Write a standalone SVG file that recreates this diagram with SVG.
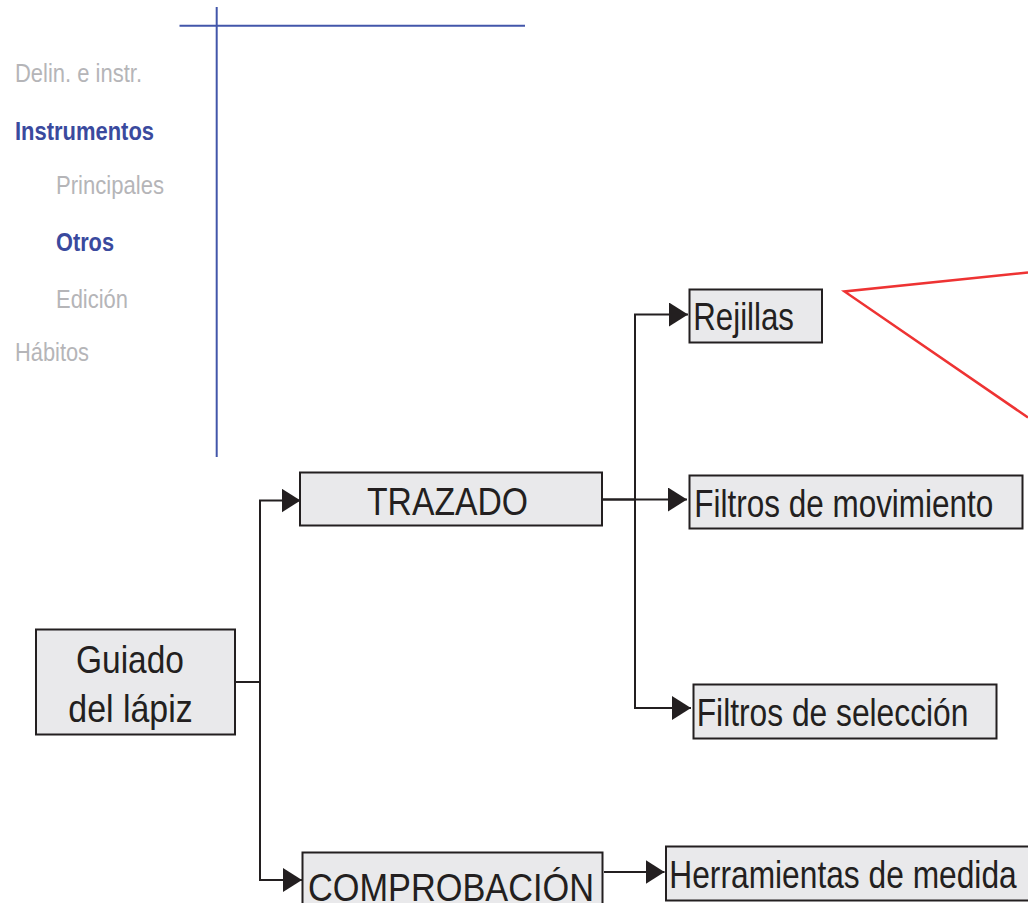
<svg xmlns="http://www.w3.org/2000/svg" width="1028" height="903" viewBox="0 0 1028 903">
<style>
.box{fill:#e9e9eb;stroke:#231f20;stroke-width:2}
.t{font-family:"Liberation Sans",Arial,sans-serif;fill:#231f20;font-size:39.5px}
.m{font-family:"Liberation Sans",Arial,sans-serif;font-size:26.5px;fill:#b5b5b8}
.mb{font-family:"Liberation Sans",Arial,sans-serif;font-size:26.5px;font-weight:bold;fill:#3a4a9e}
.c{fill:none;stroke:#231f20;stroke-width:2}
.blue{stroke:#4256aa;stroke-width:2;fill:none}
</style>
<defs>
<marker id="arr" markerUnits="userSpaceOnUse" markerWidth="20" markerHeight="24" refX="19" refY="12" orient="auto">
<path d="M0,0 L19,12 L0,24 z" fill="#231f20"/>
</marker>
</defs>
<g id="menu">
<line class="blue" x1="216.7" y1="7" x2="216.7" y2="457"/>
<line class="blue" x1="179.5" y1="25.7" x2="525" y2="25.7"/>
<text class="m" x="15" y="81.7" textLength="127" lengthAdjust="spacingAndGlyphs">Delin. e instr.</text>
<text class="mb" x="15" y="140" textLength="139" lengthAdjust="spacingAndGlyphs">Instrumentos</text>
<text class="m" x="56" y="194" textLength="108" lengthAdjust="spacingAndGlyphs">Principales</text>
<text class="mb" x="56" y="250.7" textLength="58" lengthAdjust="spacingAndGlyphs">Otros</text>
<text class="m" x="56" y="308" textLength="72" lengthAdjust="spacingAndGlyphs">Edición</text>
<text class="m" x="15" y="360.7" textLength="74" lengthAdjust="spacingAndGlyphs">Hábitos</text>
</g>
<g id="connectors">
<path class="c" d="M235,682 H260"/>
<path class="c" d="M260,682 V500.5 H300.5" marker-end="url(#arr)"/>
<path class="c" d="M260,682 V880 H302" marker-end="url(#arr)"/>
<path class="c" d="M602,499.5 H635 V314.5 H688" marker-end="url(#arr)"/>
<path class="c" d="M602,499.5 H687" marker-end="url(#arr)"/>
<path class="c" d="M635,499.5 V708 H691" marker-end="url(#arr)"/>
<path class="c" d="M604,872 H664.5" marker-end="url(#arr)"/>
</g>
<g id="callout">
<polyline points="1028,272.5 844.5,291.5 1028,417.5" fill="none" stroke="#ee3333" stroke-width="2.5"/>
</g>
<g id="guiado">
<rect class="box" x="36" y="629.5" width="199" height="105"/>
<text class="t" x="76" y="672.7" textLength="108" lengthAdjust="spacingAndGlyphs">Guiado</text>
<text class="t" x="68.3" y="721.7" textLength="124.4" lengthAdjust="spacingAndGlyphs">del lápiz</text>
</g>
<g id="trazado">
<rect class="box" x="300" y="472.5" width="302" height="53"/>
<text class="t" x="367" y="515" textLength="161" lengthAdjust="spacingAndGlyphs">TRAZADO</text>
</g>
<g id="comprobacion">
<rect class="box" x="302.5" y="852.5" width="300" height="60"/>
<text class="t" x="308" y="901" textLength="286" lengthAdjust="spacingAndGlyphs">COMPROBACIÓN</text>
</g>
<g id="rejillas">
<rect class="box" x="689.5" y="289.5" width="132.5" height="53"/>
<text class="t" x="693.3" y="330" textLength="100.7" lengthAdjust="spacingAndGlyphs">Rejillas</text>
</g>
<g id="filtros-movimiento">
<rect class="box" x="689.5" y="475.5" width="333" height="53"/>
<text class="t" x="694.3" y="516.7" textLength="299" lengthAdjust="spacingAndGlyphs">Filtros de movimiento</text>
</g>
<g id="filtros-seleccion">
<rect class="box" x="693.5" y="684.5" width="303" height="54"/>
<text class="t" x="696.7" y="726" textLength="271.7" lengthAdjust="spacingAndGlyphs">Filtros de selección</text>
</g>
<g id="herramientas">
<rect class="box" x="666" y="846.5" width="380" height="54"/>
<text class="t" x="669.3" y="887.7" textLength="347.4" lengthAdjust="spacingAndGlyphs">Herramientas de medida</text>
</g>
</svg>
